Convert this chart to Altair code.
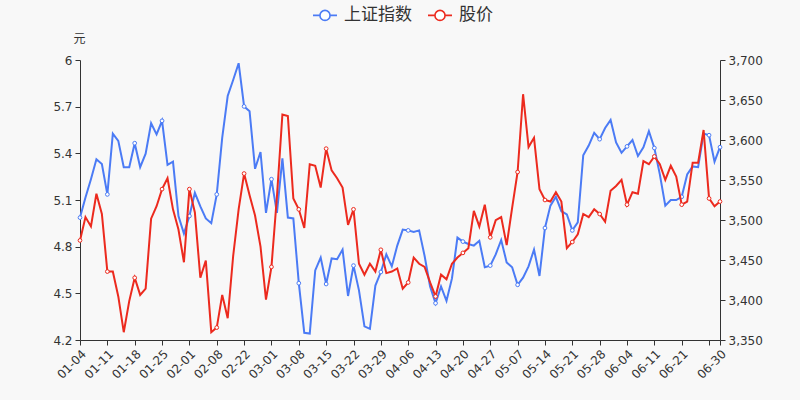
import json
import altair as alt
import pandas as pd

# ---- data ----
dates = [
    "01-04", "01-05", "01-06", "01-07", "01-08", "01-11", "01-12", "01-13", "01-14", "01-15",
    "01-18", "01-19", "01-20", "01-21", "01-22", "01-25", "01-26", "01-27", "01-28", "01-29",
    "02-01", "02-02", "02-03", "02-04", "02-05", "02-08", "02-09", "02-10", "02-18", "02-19",
    "02-22", "02-23", "02-24", "02-25", "02-26", "03-01", "03-02", "03-03", "03-04", "03-05",
    "03-08", "03-09", "03-10", "03-11", "03-12", "03-15", "03-16", "03-17", "03-18", "03-19",
    "03-22", "03-23", "03-24", "03-25", "03-26", "03-29", "03-30", "03-31", "04-01", "04-02",
    "04-06", "04-07", "04-08", "04-09", "04-12", "04-13", "04-14", "04-15", "04-16", "04-19",
    "04-20", "04-21", "04-22", "04-23", "04-26", "04-27", "04-28", "04-29", "04-30", "05-06",
    "05-07", "05-10", "05-11", "05-12", "05-13", "05-14", "05-17", "05-18", "05-19", "05-20",
    "05-21", "05-24", "05-25", "05-26", "05-27", "05-28", "05-31", "06-01", "06-02", "06-03",
    "06-04", "06-07", "06-08", "06-09", "06-10", "06-11", "06-15", "06-16", "06-17", "06-18",
    "06-21", "06-22", "06-23", "06-24", "06-25", "06-28", "06-29", "06-30",
]

index_values = [
    3503, 3528, 3551, 3576, 3570, 3532, 3608, 3599, 3566, 3566,
    3596, 3566, 3583, 3621, 3607, 3624, 3569, 3573, 3505, 3483,
    3505, 3534, 3517, 3502, 3496, 3532, 3603, 3655, 3675, 3696,
    3642, 3636, 3564, 3585, 3509, 3551, 3509, 3577, 3503, 3502,
    3421, 3359, 3358, 3437, 3453, 3420, 3452, 3451, 3463, 3405,
    3443, 3412, 3367, 3364, 3418, 3435, 3457, 3442, 3468, 3488,
    3487, 3485, 3487, 3455, 3417, 3396, 3417, 3399, 3427, 3478,
    3473, 3470, 3468, 3474, 3441, 3443, 3457, 3475, 3447, 3441,
    3419, 3428, 3442, 3463, 3430, 3490, 3518, 3529, 3511, 3507,
    3487, 3497, 3581, 3593, 3609, 3601, 3615, 3625, 3597, 3584,
    3592, 3600, 3580, 3591, 3611, 3590, 3557, 3518, 3525, 3525,
    3529, 3557, 3567, 3566, 3608, 3606, 3573, 3591,
]

price_values = [
    4.84, 4.99, 4.93, 5.14, 5.01, 4.64, 4.64, 4.48, 4.25, 4.45,
    4.60, 4.49, 4.53, 4.98, 5.06, 5.17, 5.24, 5.04, 4.91, 4.70,
    5.17, 5.02, 4.60, 4.71, 4.25, 4.28, 4.49, 4.34, 4.74, 5.04,
    5.27, 5.13, 5.00, 4.80, 4.46, 4.67, 5.12, 5.65, 5.64, 5.11,
    5.04, 4.92, 5.33, 5.32, 5.18, 5.43, 5.29, 5.24, 5.18, 4.94,
    5.04, 4.69, 4.62, 4.69, 4.64, 4.78, 4.63, 4.64, 4.66, 4.53,
    4.57, 4.73, 4.69, 4.67, 4.57, 4.48, 4.62, 4.59, 4.69, 4.73,
    4.76, 4.79, 5.03, 4.93, 5.07, 4.86, 4.97, 4.99, 4.81, 5.05,
    5.28, 5.78, 5.44, 5.50, 5.17, 5.10, 5.09, 5.15, 5.09, 4.79,
    4.83, 4.88, 5.01, 4.99, 5.04, 5.01, 4.96, 5.16, 5.19, 5.23,
    5.07, 5.15, 5.14, 5.35, 5.33, 5.38, 5.33, 5.23, 5.32, 5.25,
    5.07, 5.09, 5.34, 5.34, 5.55, 5.11, 5.06, 5.09,
]

series_names = ["上证指数", "股价"]
left_ticks = [4.2, 4.5, 4.8, 5.1, 5.4, 5.7, 6]
right_ticks = [3350, 3400, 3450, 3500, 3550, 3600, 3650, 3700]

# ---- styling ----
BLUE = "#4b7bf5"
RED = "#ec2a1e"
BG = "#f8f8f8"
TXT = "#333333"
FONT = "DejaVu Sans"
CJK = "Noto Sans CJK SC"

n = len(dates)
x_ticks = list(range(0, n - 2, 5)) + [n - 1]
hidden_tick = (n - 1) // 5 * 5  # tick without label (overlaps last)
label_expr = (
    f"datum.value == {hidden_tick} ? '' : {json.dumps(dates)}[datum.value]"
)

rows = []
for k in range(n):
    mark = (k % 5 == 0) or (k == n - 1)
    rows.append({"i": k, "series": series_names[0], "value": index_values[k], "marker": mark})
    rows.append({"i": k, "series": series_names[1], "value": price_values[k], "marker": mark})
df = pd.DataFrame(rows)

legend_symbol = "M-1,0H-0.42M0.42,0H1M0.42,0A0.42,0.42,0,1,1,-0.42,0A0.42,0.42,0,1,1,0.42,0Z"

color = alt.Color(
    "series:N",
    scale=alt.Scale(domain=series_names, range=[BLUE, RED]),
    legend=alt.Legend(
        title=None,
        orient="none",
        legendX=232,
        legendY=-58,
        direction="horizontal",
        symbolType=legend_symbol,
        symbolSize=576,
        symbolStrokeWidth=1.6,
        symbolFillColor="#ffffff",
        labelFont=CJK,
        labelFontSize=17,
        labelColor=TXT,
        labelOffset=6,
        columnPadding=12,
        padding=0,
    ),
)

x = alt.X(
    "i:Q",
    scale=alt.Scale(domain=[0, n - 1], nice=False, zero=False),
    axis=alt.Axis(
        values=x_ticks,
        labelExpr=label_expr,
        labelAngle=-45,
        labelOverlap=False,
        labelFlush=False,
        labelBound=False,
        title=None,
        grid=False,
    ),
)

base = alt.Chart(df)

y_right = alt.Y(
    "value:Q",
    scale=alt.Scale(domain=[3350, 3700], nice=False, zero=False),
    axis=alt.Axis(orient="right", values=right_ticks, format=",d", title=None, grid=False),
)
y_left = alt.Y(
    "value:Q",
    scale=alt.Scale(domain=[4.2, 6], nice=False, zero=False),
    axis=alt.Axis(
        orient="left",
        values=left_ticks,
        format="~g",
        title="元",
        titleAngle=0,
        titleX=-1,
        titleY=-22,
        titleAlign="center",
        titleBaseline="middle",
        titleFont=CJK,
        titleFontSize=12,
        titleFontWeight="normal",
        titleColor=TXT,
        grid=False,
    ),
)

blue_src = base.transform_filter(alt.datum.series == series_names[0])
red_src = base.transform_filter(alt.datum.series == series_names[1])

blue_layer = alt.layer(
    blue_src.mark_line(strokeWidth=2).encode(x=x, y=y_right, color=color),
    blue_src.transform_filter(alt.datum.marker).mark_point(
        shape="circle", filled=False, fill="#ffffff", fillOpacity=1, opacity=1, size=14, strokeWidth=1
    ).encode(x=x, y=y_right, color=color),
)
red_layer = alt.layer(
    red_src.mark_line(strokeWidth=2).encode(x=x, y=y_left, color=color),
    red_src.transform_filter(alt.datum.marker).mark_point(
        shape="circle", filled=False, fill="#ffffff", fillOpacity=1, opacity=1, size=14, strokeWidth=1
    ).encode(x=x, y=y_left, color=color),
)

chart = (
    alt.layer(blue_layer, red_layer)
    .resolve_scale(y="independent")
    .properties(
        width=640,
        height=280,
        background=BG,
        padding={"left": 80, "top": 60, "right": 80, "bottom": 60},
        autosize=alt.AutoSizeParams(type="none"),
    )
    .configure_view(stroke=None)
    .configure_axis(
        domainColor=TXT,
        tickColor=TXT,
        labelColor=TXT,
        labelFont=FONT,
        labelFontSize=12,
        tickSize=5,
        labelPadding=3,
        domainWidth=1,
        tickWidth=1,
    )
)

chart.save("out.html", embed_options={"renderer": "svg", "actions": False})
